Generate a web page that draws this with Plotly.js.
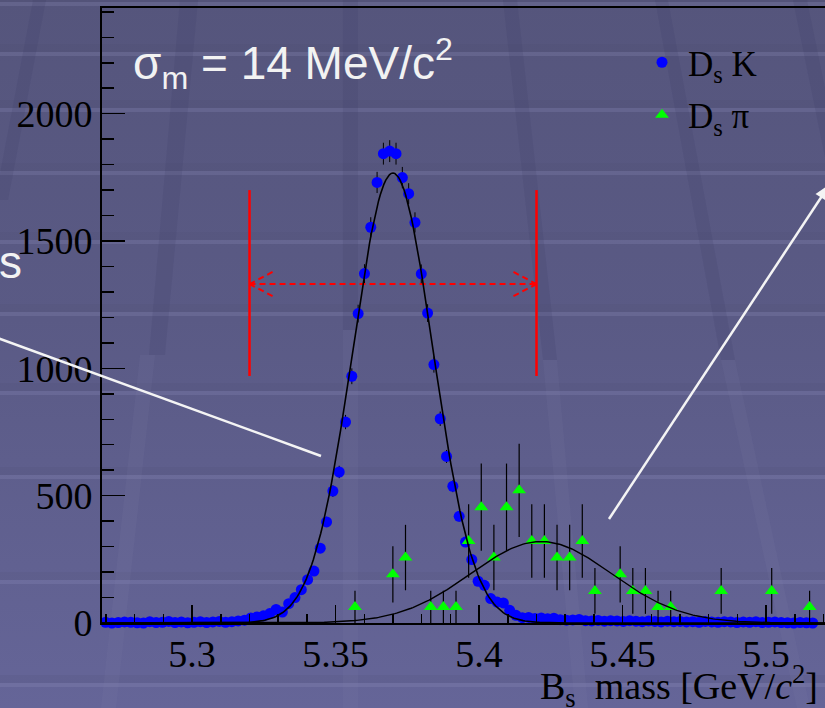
<!DOCTYPE html>
<html>
<head>
<meta charset="utf-8">
<script src="https://cdn.plot.ly/plotly-3.0.1.min.js"></script>
<style>
  html, body { margin: 0; padding: 0; overflow: hidden; }
  body { width: 825px; height: 708px; background: linear-gradient(to bottom, #55557c 0%, #5a5a85 45%, #656598 100%); }
  #plot { width: 825px; height: 708px; }
</style>
</head>
<body>
<div id="plot"></div>
<script>
// ---- Ds K candidates: fine binning (bin width 2.2 MeV) ----
const dsKFirstCenter = 5.26985;
const dsKBinWidth = 0.0022;
const dsKCounts = [
  3, 0, 2, 4, 3, 1, 0, 5, 2, 3, 6, 2, 4, 1, 3, 5, 2, 4, 6, 3, 5, 8, 11, 20, 24, 28,
  37, 53, 43, 76, 100, 131, 170, 204, 294, 397,
  518, 593, 789, 969, 1215, 1372, 1554, 1730, 1843,
  1853,
  1843, 1749, 1686, 1573, 1371, 1217, 1015, 802, 654, 537,
  419, 318, 249, 164, 148, 96, 82, 79, 50, 30,
  21, 22, 18, 20, 17, 19, 13, 11, 12, 14,
  9, 8, 10, 7, 9, 8, 6, 9, 7, 5,
  8, 6, 4, 7, 5, 6, 4, 5, 3, 6,
  4, 3, 5, 4, 2, 4, 3, 5, 2, 3,
  4, 2, 1, 0, 2, 1, 0
];

// ---- Ds pi reflection: coarse binning (4.4 MeV), weighted events ----
const dsPiFirstCenter = 5.35675;
const dsPiBinWidth = 0.0044;
const dsPiWeight = 64.3;
const dsPiCounts = [
  63, 0, 0, 191, 257, 0, 63, 63, 63, 322, 455, 257, 455, 521, 322, 322, 257, 257, 322,
  126, 0, 191, 126, 126, 63, 63, 0, 0, 0, 126, 0, 0, 0, 126, 0, 0, 63
];

// ---- Gaussian fit parameters ----
const dsKFit = { amp: 1767, mean: 5.36997, sigma: 0.014 };   // sigma_m = 14 MeV/c^2
const dsPiFit = { amp: 320, mean: 5.4216, sigma: 0.0245 };

// ---- mass window markers ----
const windowEdges = [5.32, 5.42];
const windowSpan = [970, 1700];
const windowArrowLevel = 1331;

const xRange = [5.2686, 5.52052];
const yRange = [0, 2415];

// histogram bin centres
const dsKMass = dsKCounts.map((_, i) => dsKFirstCenter + i * dsKBinWidth);
const dsKErr = dsKCounts.map(n => Math.sqrt(n));

const dsPiMass = [], dsPiVal = [], dsPiErr = [];
dsPiCounts.forEach((n, i) => {
  if (n > 0) {               // empty bins are not drawn
    dsPiMass.push(dsPiFirstCenter + i * dsPiBinWidth);
    dsPiVal.push(n);
    dsPiErr.push(Math.sqrt(dsPiWeight * n));
  }
});

function gaussCurve(p) {
  const xs = [], ys = [];
  const n = 400;
  for (let i = 0; i <= n; i++) {
    const x = xRange[0] + (xRange[1] - xRange[0]) * i / n;
    xs.push(x);
    ys.push(p.amp * Math.exp(-0.5 * Math.pow((x - p.mean) / p.sigma, 2)));
  }
  return { xs, ys };
}
const fitK = gaussCurve(dsKFit);
const fitPi = gaussCurve(dsPiFit);

const serif = 'Liberation Serif, Times New Roman, serif';
const sans = 'Liberation Sans, Arial, sans-serif';

const traces = [
  {
    type: 'scatter', mode: 'markers', name: 'D<sub>s</sub> K', legendgroup: 'k',
    x: dsKMass, y: dsKCounts, cliponaxis: false,
    marker: { color: '#0000ff', size: 11, symbol: 'circle' },
    error_y: { type: 'data', array: dsKErr, visible: true, color: '#000000', thickness: 1, width: 0 }
  },
  {
    type: 'scatter', mode: 'markers', name: 'D<sub>s</sub> π', legendgroup: 'pi',
    x: dsPiMass, y: dsPiVal, cliponaxis: false,
    marker: { color: '#00ff00', size: 12, symbol: 'triangle-up' },
    error_y: { type: 'data', array: dsPiErr, visible: true, color: '#000000', thickness: 1.2, width: 0 }
  },
  {
    type: 'scatter', mode: 'lines', x: fitK.xs, y: fitK.ys, showlegend: false,
    line: { color: '#000000', width: 1.6 }, hoverinfo: 'skip'
  },
  {
    type: 'scatter', mode: 'lines', x: fitPi.xs, y: fitPi.ys, showlegend: false,
    line: { color: '#000000', width: 1.4 }, hoverinfo: 'skip'
  }
];

// page geometry helpers for the slide backdrop (pixel -> paper)
const L = 102, T = 8, W = 723, H = 615;
const px = v => (v - L) / W;
const py = v => (T + H - v) / H;
function poly(pts, color, layer) {
  const d = pts.map((p, i) => (i ? 'L' : 'M') + px(p[0]).toFixed(4) + ',' + py(p[1]).toFixed(4)).join(' ') + ' Z';
  return { type: 'path', xref: 'paper', yref: 'paper', path: d, fillcolor: color, line: { width: 0 }, layer: layer || 'below' };
}
function seg(a, b, color, width) {
  return { type: 'line', xref: 'paper', yref: 'paper', x0: px(a[0]), y0: py(a[1]), x1: px(b[0]), y1: py(b[1]),
    line: { color: color, width: width }, layer: 'above' };
}

const shapes = [];
// horizontal light bands of the backdrop
[2, 52, 108, 171, 240, 312, 391, 475, 580, 683].forEach(y => {
  shapes.push(poly([[-200, y - 8], [1000, y - 8], [1000, y], [-200, y]], 'rgba(70,70,110,0.12)'));
  shapes.push(poly([[-200, y], [1000, y], [1000, y + 4], [-200, y + 4]], 'rgba(150,150,195,0.22)'));
});
// slanted stripes of the backdrop
const dark = 'rgba(60,60,98,0.17)', light = 'rgba(135,135,180,0.10)';
shapes.push(poly([[33, 0], [46, 0], [8, 200], [-5, 200]], dark));
shapes.push(poly([[180, 0], [198, 0], [165, 355], [149, 355]], dark));
shapes.push(poly([[140, 355], [155, 355], [116, 708], [101, 708]], light));
shapes.push(poly([[343, 0], [358, 0], [358, 330], [343, 330]], dark));
shapes.push(poly([[343, 330], [358, 330], [358, 708], [343, 708]], light));
shapes.push(poly([[503, 0], [517, 0], [557, 360], [543, 360]], dark));
shapes.push(poly([[543, 360], [557, 360], [588, 708], [575, 708]], light));
shapes.push(poly([[655, 0], [668, 0], [735, 360], [721, 360]], dark));
shapes.push(poly([[721, 360], [735, 360], [810, 708], [797, 708]], light));
shapes.push(poly([[793, 0], [807, 0], [860, 260], [846, 260]], dark));

// mass window: solid edges and dashed double arrow
const red = '#ff0000';
windowEdges.forEach(x => {
  shapes.push({ type: 'line', xref: 'x', yref: 'y', x0: x, x1: x, y0: windowSpan[0], y1: windowSpan[1],
    line: { color: red, width: 2.5 }, layer: 'below' });
});
const headDx = 0.0088, headDy = 52;
const dashed = { color: red, width: 2, dash: '6px,4px' };
shapes.push({ type: 'line', xref: 'x', yref: 'y', x0: windowEdges[0], x1: windowEdges[1],
  y0: windowArrowLevel, y1: windowArrowLevel, line: dashed, layer: 'below' });
[[windowEdges[0], 1], [windowEdges[1], -1]].forEach(([x, s]) => {
  [1, -1].forEach(v => {
    shapes.push({ type: 'line', xref: 'x', yref: 'y', x0: x, y0: windowArrowLevel,
      x1: x + s * headDx, y1: windowArrowLevel + v * headDy, line: dashed, layer: 'below' });
  });
});

// white pointer lines of the slide
const white = '#f4f4f4';
shapes.push(seg([-5, 337], [321, 456], white, 2.5));
shapes.push(seg([609, 519], [824, 193], white, 2.5));
shapes.push(poly([[830, 184], [826.5, 201], [815.5, 194]], white, 'above'));

const annotations = [
  { xref: 'paper', yref: 'paper', x: px(131), y: py(98), xanchor: 'left', yanchor: 'bottom', showarrow: false,
    text: 'σ<sub>m</sub> = 14 MeV/c<sup>2</sup>', font: { family: sans, size: 46, color: '#f2f2f2' } },
  { xref: 'paper', yref: 'paper', x: px(24), y: py(262), xanchor: 'right', yanchor: 'middle', showarrow: false,
    text: 's', font: { family: sans, size: 46, color: '#f2f2f2' } },
  { xref: 'paper', yref: 'paper', x: px(538), y: py(715), xanchor: 'left', yanchor: 'bottom', showarrow: false,
    text: 'B<sub>s</sub>&nbsp; mass [GeV/<i>c</i><sup>2</sup>]', font: { family: serif, size: 38, color: '#000000' } }
];

const layout = {
  width: 825, height: 708,
  margin: { l: L, r: 0, t: T, b: 708 - T - H, pad: 0 },
  paper_bgcolor: 'rgba(0,0,0,0)', plot_bgcolor: 'rgba(0,0,0,0)',
  showlegend: true,
  legend: {
    x: px(636), y: py(33), xanchor: 'left', yanchor: 'top',
    bgcolor: 'rgba(0,0,0,0)', borderwidth: 0, itemwidth: 42, tracegroupgap: 4,
    font: { family: serif, size: 35, color: '#000000' }
  },
  xaxis: {
    range: xRange, showgrid: false, zeroline: false,
    showline: true, linecolor: '#000000', linewidth: 1.8, mirror: true,
    ticks: 'inside', ticklen: 18, tickwidth: 1.5, tickcolor: '#000000',
    tick0: 5.3, dtick: 0.05, ticklabelstandoff: -3,
    minor: { ticks: 'inside', dtick: 0.01, tick0: 5.3, ticklen: 9, tickwidth: 1.5, tickcolor: '#000000' },
    tickfont: { family: serif, size: 38, color: '#000000' }
  },
  yaxis: {
    range: yRange, showgrid: false, zeroline: false,
    showline: true, linecolor: '#000000', linewidth: 1.8,
    ticks: 'inside', ticklen: 23, tickwidth: 1.5, tickcolor: '#000000',
    tick0: 0, dtick: 500,
    minor: { ticks: 'inside', dtick: 100, ticklen: 12, tickwidth: 1.5, tickcolor: '#000000' },
    tickfont: { family: serif, size: 38, color: '#000000' }
  },
  shapes: shapes,
  annotations: annotations
};

Plotly.newPlot('plot', traces, layout, { staticPlot: true, displayModeBar: false });
</script>
</body>
</html>
